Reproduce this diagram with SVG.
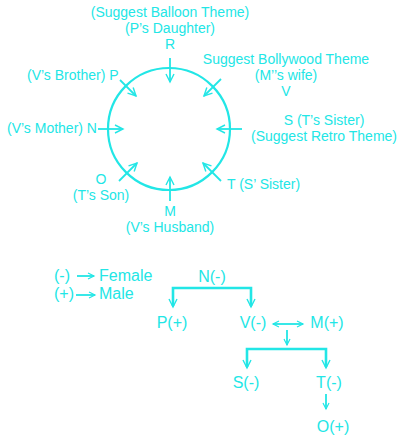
<svg xmlns="http://www.w3.org/2000/svg" width="405" height="438" viewBox="0 0 405 438">
<style>
text{font-family:"Liberation Sans",Arial,sans-serif;fill:#22e6e6;}
.s{font-size:14px;}
.b{font-size:16px;}
.m{text-anchor:middle;}
.ln{stroke:#22e6e6;stroke-width:1.8;fill:none;}
.br{stroke:#22e6e6;stroke-width:2.6;fill:none;}
</style>
<defs>
<marker id="ah" markerUnits="userSpaceOnUse" markerWidth="12" markerHeight="12" refX="9" refY="5" orient="auto-start-reverse" viewBox="0 0 12 10">
<path d="M1,1 L9,5 L1,9" fill="none" stroke="#22e6e6" stroke-width="1.4"/>
</marker>
<marker id="sm" markerUnits="userSpaceOnUse" markerWidth="10" markerHeight="10" refX="7" refY="4" orient="auto-start-reverse" viewBox="0 0 10 8">
<path d="M1,1 L7,4 L1,7" fill="none" stroke="#22e6e6" stroke-width="1.2"/>
</marker>
</defs>
<rect width="405" height="438" fill="#ffffff"/>
<g id="table"><circle cx="169" cy="129" r="61" fill="none" stroke="#22e6e6" stroke-width="2.2"/></g>
<g id="seat-R"><text class="s m" x="170" y="17">(Suggest Balloon Theme)</text><text class="s m" x="170" y="33">(P’s Daughter)</text><text class="s m" x="170" y="49">R</text></g>
<g id="seat-V"><text class="s m" x="286" y="64">Suggest Bollywood Theme</text><text class="s m" x="286" y="80">(M’’s wife)</text><text class="s m" x="286" y="96">V</text></g>
<g id="seat-P"><text class="s" x="27" y="80">(V’s Brother) P</text></g>
<g id="seat-S"><text class="s m" x="324" y="125">S (T’s Sister)</text><text class="s m" x="324" y="141">(Suggest Retro Theme)</text></g>
<g id="seat-N"><text class="s" x="7" y="133">(V’s Mother) N</text></g>
<g id="seat-O"><text class="s m" x="101" y="184">O</text><text class="s m" x="101" y="200">(T’s Son)</text></g>
<g id="seat-T"><text class="s" x="227" y="189">T (S’ Sister)</text></g>
<g id="seat-M"><text class="s m" x="170" y="216">M</text><text class="s m" x="170" y="232">(V’s Husband)</text></g>
<g id="seat-arrows">
<line class="ln" x1="170" y1="58" x2="170" y2="82" marker-end="url(#ah)"/>
<line class="ln" x1="120" y1="80" x2="136" y2="96" marker-end="url(#ah)"/>
<line class="ln" x1="221" y1="79" x2="204" y2="96" marker-end="url(#ah)"/>
<line class="ln" x1="98" y1="129" x2="123" y2="129" marker-end="url(#ah)"/>
<line class="ln" x1="242" y1="129" x2="217" y2="129" marker-end="url(#ah)"/>
<line class="ln" x1="119" y1="181" x2="137" y2="163" marker-end="url(#ah)"/>
<line class="ln" x1="221" y1="181" x2="203" y2="163" marker-end="url(#ah)"/>
<line class="ln" x1="170" y1="201" x2="170" y2="177" marker-end="url(#ah)"/>
</g>
<g id="legend">
<text class="b" x="54" y="281">(-)</text>
<text class="b" x="99" y="281">Female</text>
<text class="b" x="54" y="299">(+)</text>
<text class="b" x="99" y="299">Male</text>
<line class="ln" x1="77" y1="276" x2="94" y2="276" stroke-width="1.2" marker-end="url(#sm)"/>
<line class="ln" x1="76" y1="295" x2="95" y2="295" stroke-width="1.2" marker-end="url(#sm)"/>
</g>
<g id="node-N"><text class="b m" x="212" y="282">N(-)</text></g>
<g id="node-P"><text class="b m" x="172" y="328">P(+)</text></g>
<g id="node-V"><text class="b m" x="253" y="328">V(-)</text></g>
<g id="node-M"><text class="b m" x="327" y="328">M(+)</text></g>
<g id="node-S"><text class="b m" x="246" y="388">S(-)</text></g>
<g id="node-T"><text class="b m" x="329" y="388">T(-)</text></g>
<g id="node-O"><text class="b m" x="333" y="432">O(+)</text></g>
<g id="connectors">
<path class="br" d="M173,306 V288 H251 V306"/>
<line class="ln" x1="173" y1="296" x2="173" y2="307" stroke-width="1.4" marker-end="url(#ah)"/>
<line class="ln" x1="251" y1="296" x2="251" y2="307" stroke-width="1.4" marker-end="url(#ah)"/>
<line class="ln" x1="273" y1="324" x2="303" y2="324" stroke-width="1.4" marker-start="url(#sm)" marker-end="url(#sm)"/>
<line class="ln" x1="287" y1="330" x2="287" y2="345" stroke-width="1.4" marker-end="url(#sm)"/>
<path class="br" d="M247,367 V349 H326 V367"/>
<line class="ln" x1="247" y1="357" x2="247" y2="368" stroke-width="1.4" marker-end="url(#ah)"/>
<line class="ln" x1="326" y1="357" x2="326" y2="368" stroke-width="1.4" marker-end="url(#ah)"/>
<line class="ln" x1="326" y1="394" x2="326" y2="409" stroke-width="1.4" marker-end="url(#sm)"/>
</g>
</svg>
